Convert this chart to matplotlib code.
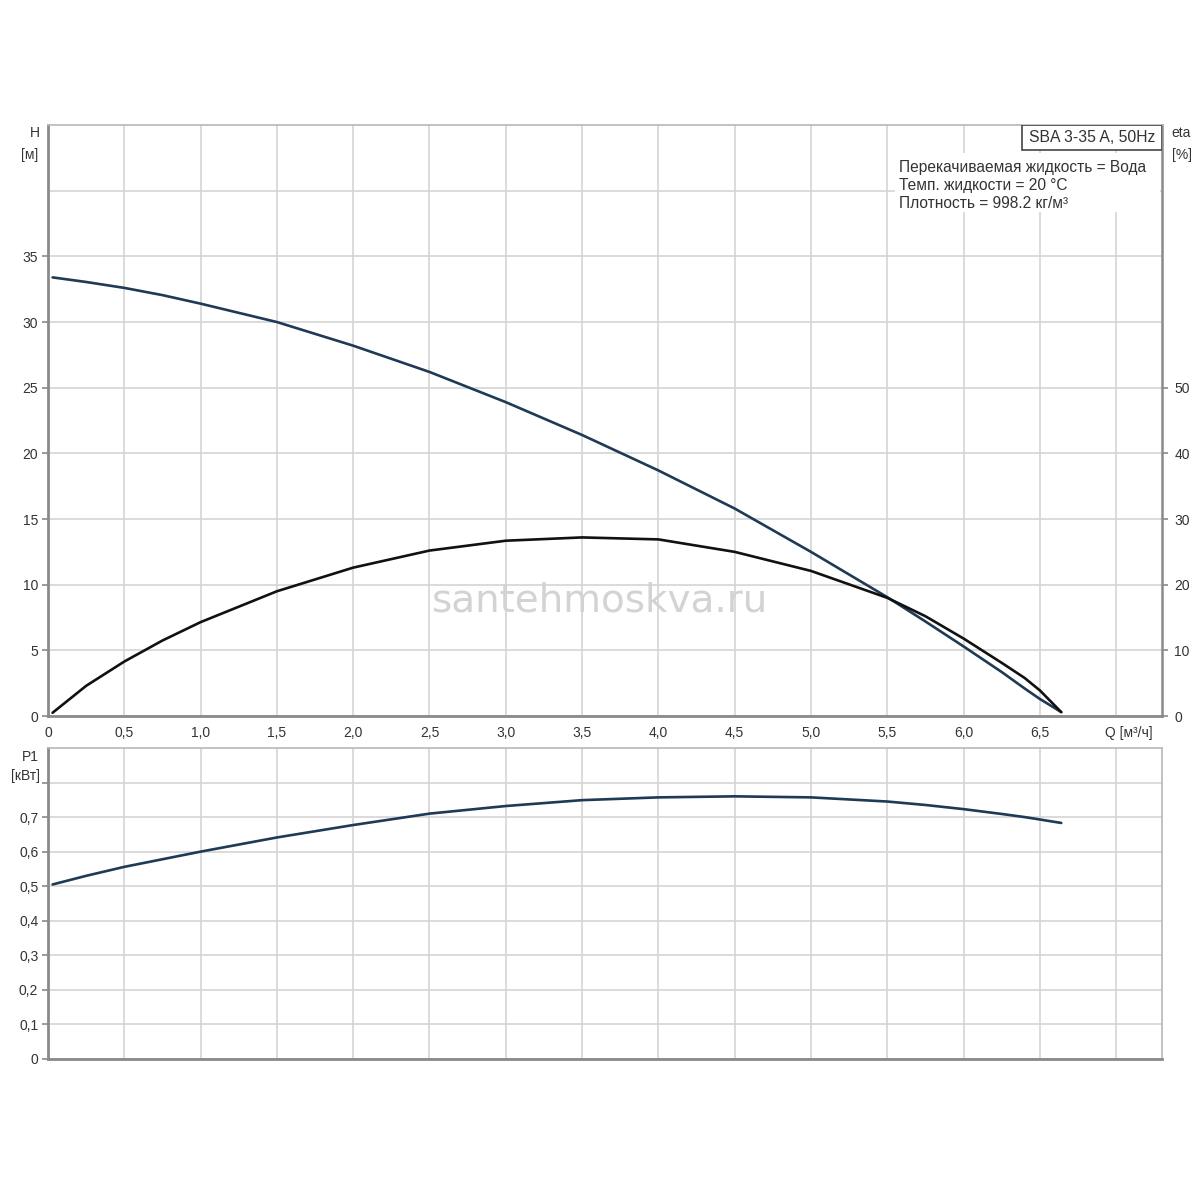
import matplotlib
matplotlib.use("Agg")
import matplotlib.pyplot as plt
from matplotlib.patches import Rectangle

plt.rcParams['font.family'] = ['Liberation Sans', 'DejaVu Sans']

# ---- data ----
Q = [0.03, 0.25, 0.5, 0.75, 1.0, 1.5, 2.0, 2.5, 3.0, 3.5, 4.0, 4.5, 5.0, 5.5, 5.75, 6.0, 6.25, 6.4, 6.5, 6.64]
H = [33.4, 33.05, 32.6, 32.05, 31.4, 30.0, 28.2, 26.2, 23.9, 21.4, 18.7, 15.8, 12.5, 9.05, 7.2, 5.3, 3.35, 2.1, 1.3, 0.3]
ETA = [0.5, 4.6, 8.3, 11.5, 14.3, 19.0, 22.6, 25.2, 26.7, 27.2, 26.9, 25.0, 22.1, 18.0, 15.2, 11.8, 8.1, 5.8, 3.9, 0.6]
P1 = [0.505, 0.530, 0.556, 0.578, 0.600, 0.641, 0.677, 0.710, 0.732, 0.749, 0.757, 0.760, 0.757, 0.745, 0.735, 0.723, 0.709, 0.700, 0.693, 0.683]

x_ticks = [0, 0.5, 1.0, 1.5, 2.0, 2.5, 3.0, 3.5, 4.0, 4.5, 5.0, 5.5, 6.0, 6.5]
x_extra_grid = [7.0]
h_ticks = [0, 5, 10, 15, 20, 25, 30, 35]
h_extra_grid = [40]
eta_ticks = [0, 10, 20, 30, 40, 50]
p_ticks = [0, 0.1, 0.2, 0.3, 0.4, 0.5, 0.6, 0.7]
p_extra_grid = [0.8]

title_box = "SBA 3-35 A, 50Hz"
info_lines = ["Перекачиваемая жидкость = Вода",
              "Темп. жидкости = 20 °C",
              "Плотность = 998.2 кг/м³"]
watermark = "santehmoskva.ru"

# ---- style ----
grid_c = '#d4d4d4'
spine_dark = '#8a8a8a'
spine_light = '#b8b8b8'
txt_c = '#333333'
line_blue = '#1e3a55'
line_black = '#111111'
fs = 10

fig = plt.figure(figsize=(12, 12), dpi=100)
ax = fig.add_axes([0.04, 0.4033, 0.9283, 0.4925])
ax2 = fig.add_axes([0.04, 0.1175, 0.9283, 0.2592])

def fmt_x(v):
    return "0" if v == 0 else ("%.1f" % v).replace('.', ',')

def fmt_p(v):
    return "0" if v == 0 else ("%.1f" % v).replace('.', ',')

def style(a):
    a.set_xlim(0, 7.3)
    for s in ['top', 'right']:
        a.spines[s].set_color(spine_light)
        a.spines[s].set_linewidth(1.2)
    for s in ['left', 'bottom']:
        a.spines[s].set_color(spine_dark)
        a.spines[s].set_linewidth(2.0)
    a.set_xticks(x_ticks)
    a.set_xticks(x_extra_grid, minor=True)
    a.grid(which='both', axis='x', color=grid_c, lw=1.2)
    a.tick_params(axis='x', which='both', length=0)
    a.tick_params(axis='y', which='minor', length=0)
    a.tick_params(axis='both', which='major', labelsize=fs, colors=spine_dark,
                  labelcolor=txt_c, width=1.2, direction='out')
    a.tick_params(axis='y', which='major', length=4, pad=3)
    a.set_axisbelow(True)

# --- top axes: H and eta ---
style(ax)
ax.set_ylim(0, 45)
ax.set_xticklabels([fmt_x(v) for v in x_ticks])
ax.tick_params(axis='x', pad=7)
ax.set_yticks(h_ticks)
ax.set_yticklabels([str(v) for v in h_ticks])
ax.set_yticks(h_extra_grid, minor=True)
ax.grid(which='both', axis='y', color=grid_c, lw=1.2)
ax.spines['right'].set_color(spine_dark)
ax.spines['right'].set_linewidth(1.8)
ax.plot(Q, H, color=line_blue, lw=1.9, zorder=3, solid_capstyle='round', solid_joinstyle='round')

axe = ax.twinx()
axe.set_position(ax.get_position())
axe.set_ylim(0, 90)
axe.set_yticks(eta_ticks)
axe.set_yticklabels([str(v) for v in eta_ticks])
axe.tick_params(axis='y', labelsize=fs, colors=spine_dark, labelcolor=txt_c,
                length=4, width=1.2, pad=5)
for s in axe.spines.values():
    s.set_visible(False)
axe.plot(Q, ETA, color=line_black, lw=1.9, zorder=3, solid_capstyle='round', solid_joinstyle='round')

# labels
fig.text(35 / 1200, 1 - 133 / 1200, "H", ha='center', va='center', fontsize=fs, color=txt_c)
fig.text(30 / 1200, 1 - 155 / 1200, "[м]", ha='center', va='center', fontsize=fs, color=txt_c)
fig.text(1181 / 1200, 1 - 133 / 1200, "eta", ha='center', va='center', fontsize=fs, color=txt_c)
fig.text(1182 / 1200, 1 - 155 / 1200, "[%]", ha='center', va='center', fontsize=fs, color=txt_c)
fig.text(1129 / 1200, 1 - 733 / 1200, "Q [м³/ч]", ha='center', va='center', fontsize=fs, color=txt_c)
fig.text(30 / 1200, 1 - 757 / 1200, "P1", ha='center', va='center', fontsize=fs, color=txt_c)
fig.text(25 / 1200, 1 - 776 / 1200, "[кВт]", ha='center', va='center', fontsize=fs, color=txt_c)

# info area (white background) and title box, in axes fraction coords
def ax_frac_x(px):
    return (px - 48) / 1114.0

def ax_frac_y(py):
    return (716 - py) / 591.0

axe.add_patch(Rectangle((ax_frac_x(895), ax_frac_y(212)), ax_frac_x(1160) - ax_frac_x(895),
                        ax_frac_y(153) - ax_frac_y(212), transform=ax.transAxes,
                        fc='white', ec='none', zorder=4))
axe.add_patch(Rectangle((ax_frac_x(1022), ax_frac_y(150)), 1.0 - ax_frac_x(1022),
                        1.0 - ax_frac_y(150), transform=ax.transAxes,
                        fc='white', ec='#444444', lw=1.2, zorder=5))
axe.text((ax_frac_x(1022) + 1.0) / 2, (ax_frac_y(150) + 1.0) / 2, title_box,
         transform=ax.transAxes, ha='center', va='center', fontsize=11.3,
         color=txt_c, zorder=6)
for i, line in enumerate(info_lines):
    axe.text(ax_frac_x(899), ax_frac_y(167 + 18 * i), line, transform=ax.transAxes,
             ha='left', va='center', fontsize=11.2, color=txt_c, zorder=6)

# watermark
fig.text(0.5, 1 - 601 / 1200, watermark, ha='center', va='center', fontsize=28,
         color='#d3d3d3', family=['DejaVu Sans'], zorder=10)

# --- bottom axes: P1 ---
style(ax2)
ax2.set_ylim(0, 0.9)
ax2.tick_params(axis='x', labelbottom=False)
ax2.set_yticks(p_ticks + p_extra_grid)
ax2.set_yticklabels([fmt_p(v) for v in p_ticks] + [""])
ax2.grid(which='major', axis='y', color=grid_c, lw=1.2)
ax2.plot(Q, P1, color=line_blue, lw=1.9, zorder=3, solid_capstyle='round', solid_joinstyle='round')

fig.savefig("out.png", dpi=100, facecolor='white')
